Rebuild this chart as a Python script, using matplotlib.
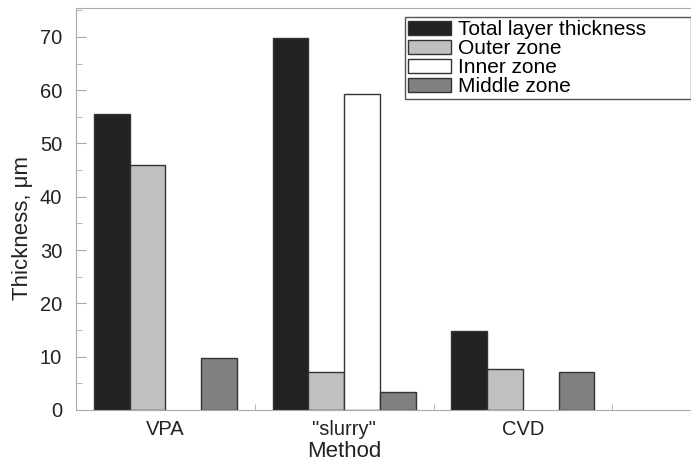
import numpy as np
import matplotlib.pyplot as plt
from matplotlib.ticker import MultipleLocator, FixedLocator

methods = ['VPA', '"slurry"', 'CVD']
total_layer = [55.6, 69.8, 14.9]
outer_zone = [45.9, 7.1, 7.6]
inner_zone = [0.0, 59.2, 0.0]
middle_zone = [9.7, 3.4, 7.1]

series = [
    ('Total layer thickness', total_layer, '#222222'),
    ('Outer zone', outer_zone, '#c0c0c0'),
    ('Inner zone', inner_zone, '#ffffff'),
    ('Middle zone', middle_zone, '#808080'),
]

plt.rcParams['font.family'] = ['Liberation Sans', 'DejaVu Sans']

fig = plt.figure(figsize=(6.91, 4.63), dpi=100)
ax = fig.add_axes([0.110, 0.1145, 0.89, 0.868])

x = np.arange(1, len(methods) + 1)
w = 0.2
for i, (label, vals, color) in enumerate(series):
    heights = [v if v > 0 else np.nan for v in vals]
    ax.bar(x - 0.3 + i * w, heights, width=w, color=color, edgecolor='#333333',
           linewidth=1.0, label=label)

ax.set_xlim(0.5, 3.94)
ax.set_ylim(0, 75.4)
ax.set_xticks(x)
ax.set_xticklabels(methods, fontsize=14.5, color='#222222')
ax.xaxis.set_minor_locator(FixedLocator([1.5, 2.5, 3.5]))
ax.tick_params(axis='x', which='major', length=0, pad=7)
ax.tick_params(axis='x', which='minor', direction='in', length=4, color='#aaaaaa')

ax.yaxis.set_major_locator(MultipleLocator(10))
ax.yaxis.set_minor_locator(MultipleLocator(5))
ax.tick_params(axis='y', which='major', direction='in', length=7, color='#aaaaaa',
               labelsize=14.5, labelcolor='#222222', pad=10)
ax.tick_params(axis='y', which='minor', direction='in', length=4, color='#aaaaaa')

for side in ['left', 'bottom', 'top']:
    ax.spines[side].set_color('#aaaaaa')
ax.spines['right'].set_visible(False)

ax.set_ylabel('Thickness, \u03bcm', fontsize=16, color='#222222')
ax.yaxis.set_label_coords(-0.07, 0.453)
ax.set_xlabel('Method', fontsize=16, color='#222222')
# center the x label under the groups, as in the original
ax.xaxis.set_label_coords((2 - 0.5) / (3.94 - 0.5), -0.078)

leg = ax.legend(loc='upper right', bbox_to_anchor=(0.535, 0.7, 0.465, 0.278),
                mode='expand', borderaxespad=0,
                fancybox=False, edgecolor='#555555', fontsize=15, handlelength=2.05,
                handleheight=0.65, labelspacing=0.0, handletextpad=0.35, borderpad=0.15,
                framealpha=1)
leg.get_frame().set_linewidth(1.0)

plt.savefig('out.png', dpi=100)
